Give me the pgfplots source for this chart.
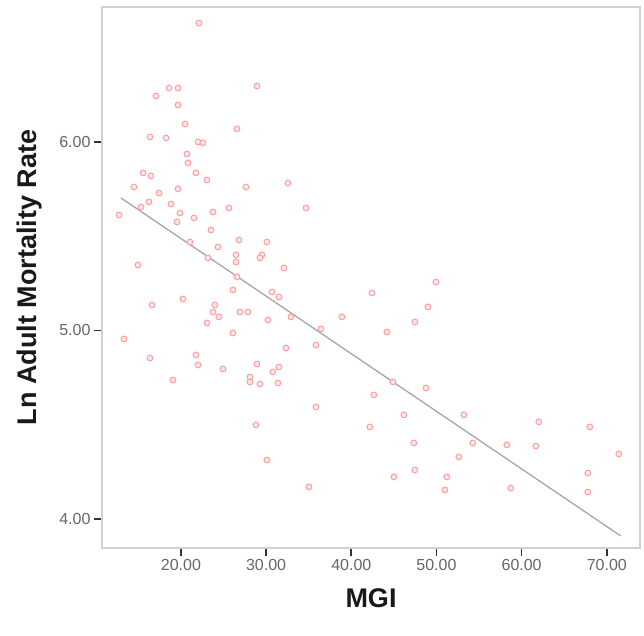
\documentclass[border=0pt]{standalone}
\usepackage{pgfplots}
\pgfplotsset{compat=1.18}
\usepackage{fontspec}
\setmainfont{Liberation Sans}
\definecolor{pt}{RGB}{248,130,130}
\begin{document}
\begin{tikzpicture}
\useasboundingbox (-102pt,-87pt) rectangle (542pt,548pt);
\begin{axis}[
  at={(0,0)}, anchor=south west,
  scale only axis, width=538pt, height=541pt,
  xmin=10.73, xmax=73.9, ymin=3.846, ymax=6.716,
  axis line style={draw=black!18, line width=1.8pt},
  xtick={20,30,40,50,60,70}, ytick={4,5,6},
  tick align=outside, major tick length=8pt,
  xtick pos=bottom, ytick pos=left,
  tick style={draw=black!80, line width=1.6pt},
  ticklabel style={font=\fontsize{16}{18}\selectfont, text=black!60},
  /pgf/number format/.cd, fixed, fixed zerofill, precision=2, assume math mode=true,
  /pgfplots/.cd,
  xlabel={MGI}, ylabel={Ln Adult Mortality Rate},
  label style={font=\fontsize{27}{30}\selectfont\bfseries, text=black!90},
  xlabel style={at={(axis description cs:0.5,-0.0924)}, anchor=center},
  ylabel style={at={(axis description cs:-0.134,0.5)}, anchor=center},
  clip=false,
]
\addplot[only marks, mark=*, mark size=2.9pt, mark options={line width=1pt, draw=pt!75, fill=pt!20}] coordinates {
(22.11,6.631) (18.59,6.286) (19.65,6.286) (17.07,6.244) (28.92,6.297)
(19.65,6.196) (20.47,6.095) (26.57,6.069) (16.36,6.027) (18.24,6.021)
(22.00,6.000) (22.58,5.995) (20.70,5.936) (20.82,5.889) (15.54,5.836)
(16.48,5.820) (21.76,5.836) (23.05,5.798) (14.48,5.761) (17.42,5.729)
(19.65,5.751) (27.63,5.761) (32.56,5.782) (16.24,5.682) (18.83,5.671)
(15.31,5.655) (12.72,5.613) (19.88,5.623) (19.53,5.576) (21.53,5.597)
(23.76,5.629) (25.63,5.650) (23.52,5.533) (21.06,5.469) (26.81,5.480)
(24.34,5.443) (30.09,5.469) (29.51,5.401) (29.27,5.385) (26.46,5.401)
(26.46,5.363) (23.17,5.385) (14.95,5.347) (32.09,5.332) (26.57,5.284)
(26.10,5.215) (30.68,5.204) (31.50,5.178) (16.60,5.135) (20.23,5.167)
(23.99,5.135) (23.76,5.098) (24.46,5.072) (23.05,5.040) (26.92,5.098)
(27.86,5.098) (30.21,5.056) (32.91,5.072) (26.10,4.987) (13.31,4.955)
(32.32,4.907) (16.36,4.854) (21.76,4.870) (22.00,4.817) (24.93,4.796)
(28.92,4.822) (31.50,4.806) (30.80,4.780) (28.10,4.753) (28.10,4.727)
(29.27,4.716) (31.38,4.721) (19.06,4.737) (28.80,4.499) (30.09,4.313)
(34.67,5.650) (49.93,5.257) (42.42,5.199) (48.99,5.125) (47.46,5.045)
(38.90,5.072) (44.18,4.992) (36.43,5.008) (35.85,4.923) (48.76,4.695)
(44.88,4.727) (42.65,4.658) (35.85,4.594) (46.17,4.552) (53.22,4.552)
(42.18,4.488) (47.35,4.403) (54.27,4.403) (52.63,4.329) (47.46,4.260)
(45.00,4.223) (35.02,4.170) (51.22,4.223) (50.99,4.154) (62.02,4.515)
(68.00,4.488) (58.26,4.393) (61.67,4.387) (71.41,4.345) (67.77,4.244)
(67.77,4.143) (58.73,4.164)
};
\addplot[draw=black!35, line width=1.3pt] coordinates {(12.96,5.703) (71.64,3.910)};
\end{axis}
\end{tikzpicture}
\end{document}
